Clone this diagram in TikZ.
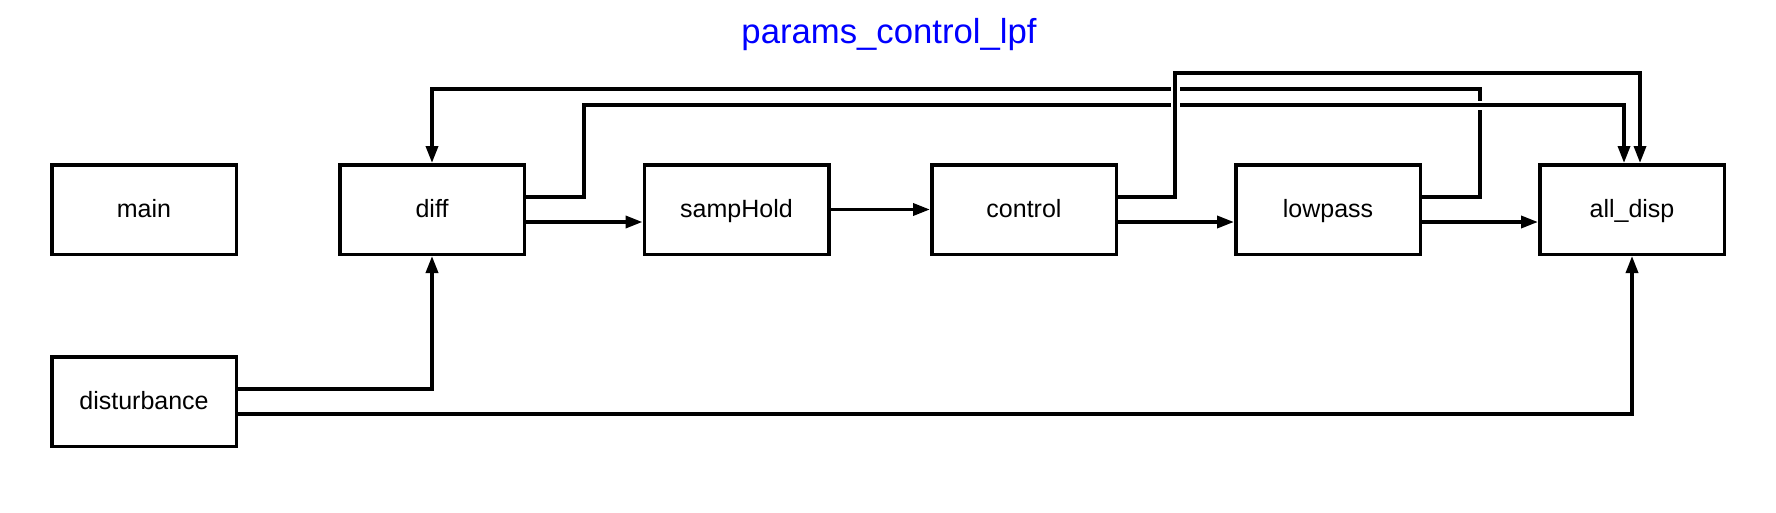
\documentclass[tikz,border=0pt]{standalone}
\usepackage{fontspec}
\setmainfont{Liberation Sans}
\usetikzlibrary{arrows.meta,calc}
\definecolor{titleblue}{RGB}{0,0,255}
\begin{document}
\begin{tikzpicture}[x=1pt,y=-1pt,
  blk/.style={draw, line width=3.5pt, minimum width=184.5pt, minimum height=89.5pt, inner sep=0pt, text height=18pt, text depth=3pt, font=\fontsize{25}{30}\selectfont},
  conn/.style={line width=3.5pt, -{Triangle[length=17pt,width=12pt]}},
  halo/.style={draw=white, line width=9pt}]
\useasboundingbox (0,0) rectangle (1776,512);
\node[font=\fontsize{34.7}{40}\selectfont, text=titleblue, anchor=base, inner sep=0pt] (title) at (889,43.5) {params\_control\_lpf};
\node[blk] (main) at (144,209.5) {main};
\node[blk] (diff) at (432,209.5) {diff};
\node[blk] (samp) at (736.5,209.5) {sampHold};
\node[blk] (ctrl) at (1024,209.5) {control};
\node[blk] (lowp) at (1328,209.5) {lowpass};
\node[blk] (disp) at (1632,209.5) {all\_disp};
\node[blk] (dist) at (144,401.5) {disturbance};
\coordinate (lpT) at (1480,89);
\coordinate (dT) at (584,105);
\coordinate (cT) at (1175,73);
\coordinate (h1a) at (1466,105);
\coordinate (h1b) at (1494,105);
\coordinate (h2a) at (1175,82);
\coordinate (h2b) at (1175,112);
% straight chain
\draw[conn] ($(diff.east)+(0,12.5)$) -- ($(samp.west)+(0,12.5)$);
\draw[conn] (samp.east) -- (ctrl.west);
\draw[conn] ($(ctrl.east)+(0,12.5)$) -- ($(lowp.west)+(0,12.5)$);
\draw[conn] ($(lowp.east)+(0,12.5)$) -- ($(disp.west)+(0,12.5)$);
% disturbance
\draw[conn] ($(dist.east)+(0,-12.5)$) -| (diff.south);
\draw[conn] ($(dist.east)+(0,12.5)$) -| (disp.south);
% feedback lowpass -> diff
\draw[conn] ($(lowp.east)+(0,-12.5)$) -| (lpT) -| (diff.north);
% diff -> all_disp
\draw[halo] (h1a) -- (h1b);
\draw[conn] ($(diff.east)+(0,-12.5)$) -| (dT) -| ($(disp.north)+(-8,0)$);
% control -> all_disp
\draw[halo] (h2a) -- (h2b);
\draw[conn] ($(ctrl.east)+(0,-12.5)$) -| (cT) -| ($(disp.north)+(8,0)$);
\end{tikzpicture}
\end{document}
